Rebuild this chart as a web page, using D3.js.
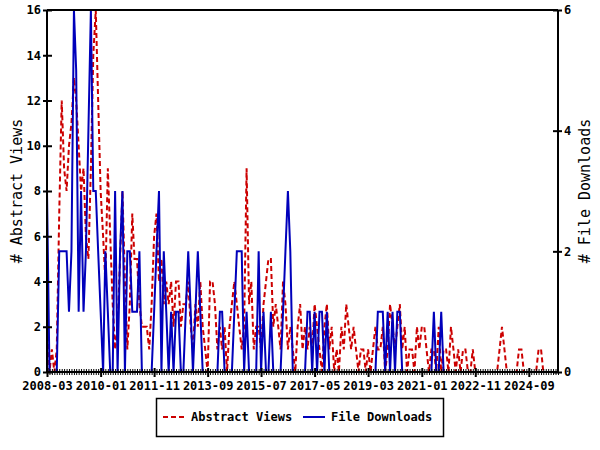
<!DOCTYPE html>
<html><head><meta charset="utf-8">
<script src="https://cdn.jsdelivr.net/npm/d3@7"></script>
<style>body{margin:0;background:#fff}svg{display:block}</style>
</head><body><svg id="c" width="600" height="450"></svg>
<script>
const startMonth = "2008-03";
const tickLabels = ["2008-03","2010-01","2011-11","2013-09","2015-07","2017-05","2019-03","2021-01","2022-11","2024-09"];
const viewTicks = [0,2,4,6,8,10,12,14,16];
const downloadTicks = [0,2,4,6];
const abstractViews = [
 3,0,1,0,1,7,12,9,8,10,11,13,
 12,10,8,9,6,5,9,14,16,12,8,6,
 4,9,6,3,1,2,5,8,4,1,3,7,
 5,5,3,2,2,2,1,3,6,7,4,5,
 3,4,3,4,2,4,4,2,3,3,4,2,
 1,3,2,4,2,1,0,4,4,3,1,2,
 1,2,0,2,3,4,3,2,1,2,9,3,
 4,1,2,2,1,3,4,5,5,2,3,2,
 1,4,3,1,2,1,0,2,3,1,2,1,
 2,1,3,2,1,0,2,3,1,2,0,1,
 0,2,1,3,2,1,2,1,0,1,1,0,
 1,0,1,2,1,1,2,0,1,3,2,1,
 2,3,1,2,0,1,1,0,2,1,2,2,
 1,0,1,1,0,2,0,1,1,0,2,1,
 0,1,0,1,1,0,0,1,0,0,0,0,
 0,0,0,0,0,0,1,2,1,0,0,0,
 0,0,1,1,0,0,0,0,0,0,1,1,
 0,0,0,0,0,0];
const fileDownloads = [
 3,0,0,0,0,2,2,2,2,1,2,6,
 5,1,3,1,2,4,6,3,3,2,1,0,
 2,1,0,0,3,0,2,3,0,2,2,1,
 1,1,2,0,0,0,0,0,1,2,3,0,
 2,1,0,1,0,1,1,0,0,1,2,1,
 0,1,2,1,0,0,0,0,0,0,0,1,
 1,0,0,0,0,1,2,2,2,0,1,0,
 0,0,0,2,0,1,0,0,1,0,0,0,
 0,1,2,3,2,0,0,0,0,0,0,1,
 1,0,1,0,1,1,0,1,0,0,0,0,
 0,0,0,0,0,0,0,0,0,0,0,0,
 0,0,0,0,1,1,1,0,1,0,1,0,
 1,1,0,0,0,0,0,0,0,0,0,0,
 0,0,0,1,0,0,1,0,0,0,0,0,
 0,0,0,0,0,0,0,0,0,0,0,0,
 0,0,0,0,0,0,0,0,0,0,0,0,
 0,0,0,0,0,0,0,0,0,0,0,0,
 0,0,0,0,0,0];
const seriesNames = ["Abstract Views","File Downloads"];

const parse = d3.timeParse("%Y-%m");
const t0 = parse(startMonth);
const dates = abstractViews.map((_, i) => d3.timeMonth.offset(t0, i));
const tEnd = d3.timeMonth.offset(t0, 210);

const L = 47, R = 558, T = 10, B = 372;
const svg = d3.select("#c");
const x = d3.scaleTime().domain([t0, tEnd]).range([L, R]);
const yL = d3.scaleLinear().domain([0, 16]).range([B, T]);
const yR = d3.scaleLinear().domain([0, 6]).range([B, T]);
const font = "'DejaVu Sans Mono', monospace";

svg.append("clipPath").attr("id","clip").append("rect").attr("x",L).attr("y",T-1).attr("width",R-L).attr("height",B-T+2);

const lineV = d3.line().x((d,i)=>x(dates[i])).y(d=>yL(d));
const lineD = d3.line().x((d,i)=>x(dates[i])).y(d=>yR(d));
const g = svg.append("g").attr("clip-path","url(#clip)");
g.append("path").datum(abstractViews).attr("d", lineV).attr("fill","none")
  .attr("stroke","#cc0000").attr("stroke-width",2).attr("stroke-dasharray","5,3");
g.append("path").datum(fileDownloads).attr("d", lineD).attr("fill","none")
  .attr("stroke","#0000bb").attr("stroke-width",2);

// frame
svg.append("line").attr("x1",L).attr("x2",R).attr("y1",T).attr("y2",T).attr("stroke","#000").attr("stroke-width",2);

// bottom minor ticks
const minor = d3.timeMonth.range(t0, d3.timeMonth.offset(tEnd,1));
const gm = svg.append("g").attr("transform",`translate(0,${B})`)
  .call(d3.axisBottom(x).tickValues(minor).tickFormat("").tickSizeOuter(0));
gm.select(".domain").remove();
gm.selectAll(".tick line").attr("y1",-3).attr("y2",3).attr("stroke","#000").attr("stroke-width",1);

const gx = svg.append("g").attr("transform",`translate(0,${B})`)
  .call(d3.axisBottom(x).tickValues(tickLabels.map(parse)).tickFormat(d3.timeFormat("%Y-%m")).tickSizeOuter(0));
gx.select(".domain").attr("stroke-width",2).attr("d",`M${L},0H${R}`);
gx.selectAll(".tick line").attr("y1",-4).attr("y2",5).attr("stroke-width",2);
gx.selectAll(".tick text").attr("y",9).attr("font-family",font).attr("font-weight","bold").attr("font-size",12).attr("fill","#000");

const gy = svg.append("g").attr("transform",`translate(${L},0)`)
  .call(d3.axisLeft(yL).tickValues(viewTicks).tickFormat(d3.format("d")).tickSizeOuter(0));
gy.select(".domain").attr("stroke-width",2).attr("d",`M0,${B}V${T}`);
gy.selectAll(".tick line").attr("x1",-4).attr("x2",5).attr("stroke-width",2);
gy.selectAll(".tick text").attr("x",-6).attr("font-family",font).attr("font-weight","bold").attr("font-size",12).attr("fill","#000");

const gr = svg.append("g").attr("transform",`translate(${R},0)`)
  .call(d3.axisRight(yR).tickValues(downloadTicks).tickFormat(d3.format("d")).tickSizeOuter(0));
gr.select(".domain").attr("stroke-width",2).attr("d",`M0,${B}V${T}`);
gr.selectAll(".tick line").attr("x1",-5).attr("x2",4).attr("stroke-width",2);
gr.selectAll(".tick text").attr("x",6).attr("font-family",font).attr("font-weight","bold").attr("font-size",12).attr("fill","#000");

svg.append("text").attr("transform","translate(22,191) rotate(-90)").attr("text-anchor","middle")
  .attr("font-family",font).attr("font-size",15).text("# Abstract Views");
svg.append("text").attr("transform","translate(590,191) rotate(-90)").attr("text-anchor","middle")
  .attr("font-family",font).attr("font-size",15).text("# File Downloads");

// legend
svg.append("rect").attr("x",156.5).attr("y",398.5).attr("width",287).attr("height",38)
  .attr("fill","none").attr("stroke","#000").attr("stroke-width",1.5);
svg.append("line").attr("x1",163).attr("x2",184).attr("y1",417).attr("y2",417)
  .attr("stroke","#cc0000").attr("stroke-width",2).attr("stroke-dasharray","5,3");
svg.append("text").attr("x",191).attr("y",421).attr("font-family",font).attr("font-weight","bold").attr("font-size",12).text(seriesNames[0]);
svg.append("line").attr("x1",303).attr("x2",325).attr("y1",417).attr("y2",417)
  .attr("stroke","#0000bb").attr("stroke-width",2);
svg.append("text").attr("x",331).attr("y",421).attr("font-family",font).attr("font-weight","bold").attr("font-size",12).text(seriesNames[1]);
</script></body></html>
